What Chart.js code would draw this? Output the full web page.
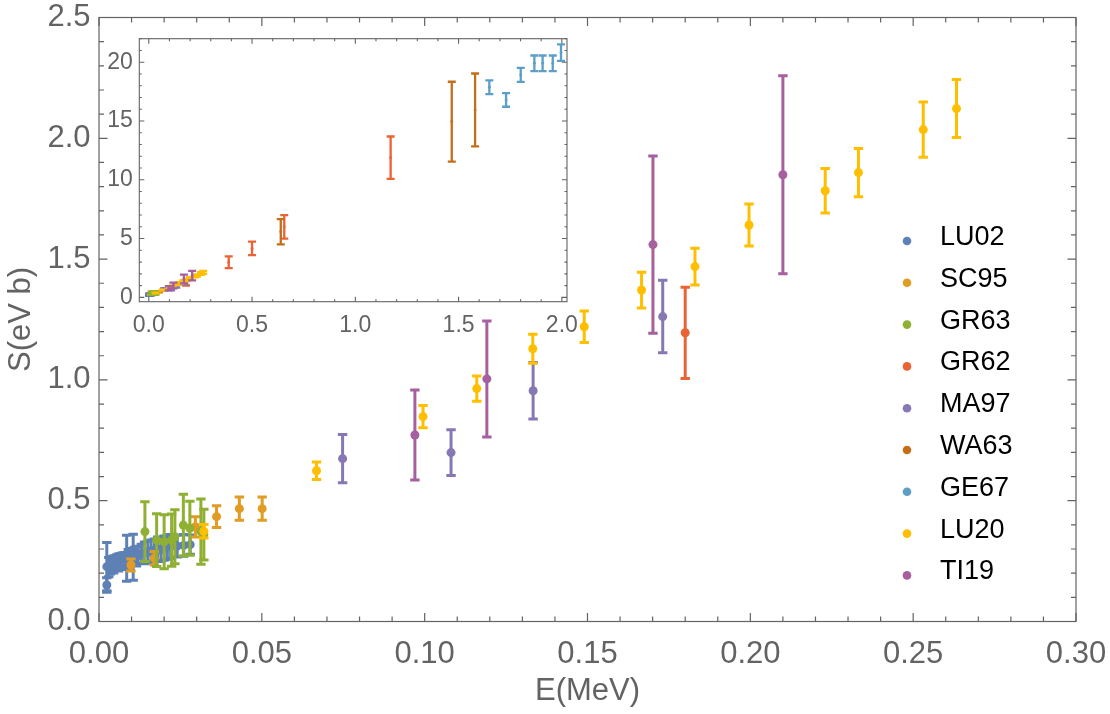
<!DOCTYPE html>
<html>
<head>
<meta charset="utf-8">
<title>S(E)</title>
<script src="https://cdn.jsdelivr.net/npm/chart.js@4.4.1/dist/chart.umd.min.js"></script>
<style>
  html, body { margin: 0; padding: 0; background: #fff; }
  #wrap { position: relative; width: 1110px; height: 714px; }
  #main { position: absolute; left: 0; top: 0; }
  #inset { position: absolute; left: 100px; top: 20px; pointer-events: none; }
</style>
</head>
<body>
<div id="wrap">
  <canvas id="main" width="1110" height="714"></canvas>
  <canvas id="inset" width="500" height="330"></canvas>
</div>
<script>
// 系列名と色（Mathematica のデフォルト配色）
const seriesNames = ["LU02", "SC95", "GR63", "GR62", "MA97", "WA63", "GE67", "LU20", "TI19"];
const seriesColors = ["#5E81B5", "#E19C24", "#8FB032", "#EB6235", "#8778B3", "#C56E1A", "#5D9EC7", "#FFBF00", "#A5609D"];

// 各系列: E (MeV), S (eV b), 誤差
const lu02E = [0.0024, 0.0024, 0.0030, 0.0035, 0.0040, 0.0045, 0.0050, 0.0055, 0.0060, 0.0065, 0.0070, 0.0075,
               0.0080, 0.0085, 0.0090, 0.0095, 0.0100, 0.0105, 0.0110, 0.0115, 0.0120, 0.0130, 0.0140, 0.0150,
               0.0160, 0.0170, 0.0180, 0.0190, 0.0200, 0.0210, 0.0220, 0.0240, 0.0260, 0.0280];
const lu02S = [0.151, 0.227, 0.225, 0.232, 0.238, 0.236, 0.242, 0.246, 0.244, 0.250, 0.253, 0.250,
               0.256, 0.262, 0.258, 0.264, 0.268, 0.266, 0.272, 0.270, 0.276, 0.280, 0.284, 0.288,
               0.292, 0.296, 0.300, 0.298, 0.304, 0.308, 0.310, 0.312, 0.315, 0.318];
const lu02Err = [0.030, 0.100, 0.040, 0.035, 0.030, 0.035, 0.030, 0.030, 0.035, 0.030, 0.030, 0.035,
                 0.030, 0.095, 0.040, 0.035, 0.035, 0.095, 0.035, 0.040, 0.035, 0.040, 0.045, 0.045,
                 0.045, 0.045, 0.050, 0.050, 0.050, 0.050, 0.050, 0.045, 0.045, 0.040];

const sc95E = [0.0098, 0.0170, 0.0296, 0.0361, 0.0431, 0.0501];
const sc95S = [0.234, 0.262, 0.392, 0.434, 0.467, 0.467];
const sc95Err = [0.025, 0.028, 0.042, 0.045, 0.048, 0.048];

const gr63E = [0.0141, 0.0177, 0.0200, 0.0223, 0.0233, 0.0259, 0.0279, 0.0313, 0.0322];
const gr63S = [0.372, 0.337, 0.330, 0.337, 0.351, 0.399, 0.386, 0.372, 0.360];
const gr63Err = [0.124, 0.109, 0.112, 0.108, 0.112, 0.128, 0.112, 0.135, 0.105];

const gr62E = [0.180, 0.387, 0.500, 0.656, 1.171];
const gr62S = [1.195, 2.98, 4.17, 6.00, 11.88];
const gr62Err = [0.189, 0.50, 0.57, 1.00, 1.80];

const ma97E = [0.0748, 0.1081, 0.1333, 0.1731];
const ma97S = [0.674, 0.699, 0.955, 1.262];
const ma97Err = [0.100, 0.095, 0.117, 0.150];

const wa63E = [0.639, 1.467, 1.580];
const wa63S = [5.58, 14.94, 15.94];
const wa63Err = [1.07, 3.40, 3.10];

const ge67E = [1.649, 1.730, 1.801, 1.867, 1.907, 1.956, 1.996];
const ge67S = [17.87, 16.79, 18.92, 19.91, 19.91, 19.91, 20.82];
const ge67Err = [0.58, 0.58, 0.60, 0.66, 0.66, 0.66, 0.70];

const lu20E = [0.0322, 0.0668, 0.0995, 0.1160, 0.1332, 0.1490, 0.1666, 0.1830, 0.1996, 0.2230, 0.2332, 0.2531, 0.2633];
const lu20S = [0.374, 0.624, 0.848, 0.964, 1.129, 1.220, 1.372, 1.469, 1.641, 1.783, 1.858, 2.036, 2.123];
const lu20Err = [0.028, 0.036, 0.046, 0.052, 0.060, 0.065, 0.074, 0.076, 0.087, 0.092, 0.100, 0.114, 0.120];

const ti19E = [0.0970, 0.1191, 0.1701, 0.2100];
const ti19S = [0.772, 1.004, 1.560, 1.849];
const ti19Err = [0.186, 0.240, 0.367, 0.410];

// 目盛り
const mainXTicks = [0, 0.05, 0.10, 0.15, 0.20, 0.25, 0.30];
const mainXLabels = ["0.00", "0.05", "0.10", "0.15", "0.20", "0.25", "0.30"];
const mainYTicks = [0, 0.5, 1.0, 1.5, 2.0, 2.5];
const mainYLabels = ["0.0", "0.5", "1.0", "1.5", "2.0", "2.5"];
const insetXTicks = [0, 0.5, 1.0, 1.5, 2.0];
const insetXLabels = ["0.0", "0.5", "1.0", "1.5", "2.0"];
const insetYTicks = [0, 5, 10, 15, 20];
const insetYLabels = ["0", "5", "10", "15", "20"];

const series = [
  [lu02E, lu02S, lu02Err], [sc95E, sc95S, sc95Err], [gr63E, gr63S, gr63Err],
  [gr62E, gr62S, gr62Err], [ma97E, ma97S, ma97Err], [wa63E, wa63S, wa63Err],
  [ge67E, ge67S, ge67Err], [lu20E, lu20S, lu20Err], [ti19E, ti19S, ti19Err]
];

Chart.defaults.font.family = "'Liberation Sans', Arial, sans-serif";
const gray = "#636363";

function makeDatasets(radius) {
  return seriesNames.map((name, i) => ({
    label: name,
    data: series[i][0].map((e, j) => ({ x: e, y: series[i][1][j] })),
    errors: series[i][2],
    backgroundColor: seriesColors[i],
    borderColor: seriesColors[i],
    pointRadius: radius,
    pointBorderWidth: 0,
    showLine: false,
    order: seriesNames.length - i
  }));
}

function steps(min, max, step) {
  const out = [];
  for (let k = Math.ceil(min / step - 1e-9); k * step <= max + 1e-9; k++) out.push(+(k * step).toFixed(6));
  return out;
}

// エラーバー（各データセットの点の直前に描く）
const errorBarPlugin = {
  id: "errorBars",
  beforeDatasetDraw(chart, args, o) {
    const ds = chart.data.datasets[args.index];
    const { ctx, chartArea: a, scales: { x, y } } = chart;
    ctx.save();
    ctx.beginPath();
    ctx.rect(a.left, a.top, a.right - a.left, a.bottom - a.top);
    ctx.clip();
    ctx.strokeStyle = ds.borderColor;
    ctx.lineWidth = o.lineWidth;
    ds.data.forEach((p, j) => {
      const px = x.getPixelForValue(p.x);
      const top = y.getPixelForValue(p.y + ds.errors[j]);
      const bot = y.getPixelForValue(p.y - ds.errors[j]);
      ctx.beginPath();
      ctx.moveTo(px, top); ctx.lineTo(px, bot);
      ctx.moveTo(px - o.cap, top); ctx.lineTo(px + o.cap, top);
      ctx.moveTo(px - o.cap, bot); ctx.lineTo(px + o.cap, bot);
      ctx.stroke();
    });
    ctx.restore();
  }
};

// 枠と内向きの目盛り
const framePlugin = {
  id: "frameTicks",
  beforeDatasetsDraw(chart, args, o) {
    const { ctx, chartArea: a, scales: { x, y } } = chart;
    ctx.save();
    ctx.strokeStyle = gray;
    ctx.lineWidth = o.width;
    ctx.strokeRect(a.left, a.top, a.right - a.left, a.bottom - a.top);
    ctx.beginPath();
    const isMajor = (v, list) => list.some(m => Math.abs(m - v) < 1e-6);
    steps(x.min, x.max, o.xMinor).forEach(v => {
      const px = x.getPixelForValue(v);
      const len = isMajor(v, o.xMajor) ? o.major : o.minor;
      ctx.moveTo(px, a.bottom); ctx.lineTo(px, a.bottom - len);
      ctx.moveTo(px, a.top); ctx.lineTo(px, a.top + len);
    });
    steps(y.min, y.max, o.yMinor).forEach(v => {
      const py = y.getPixelForValue(v);
      const len = isMajor(v, o.yMajor) ? o.major : o.minor;
      ctx.moveTo(a.left, py); ctx.lineTo(a.left + len, py);
      ctx.moveTo(a.right, py); ctx.lineTo(a.right - len, py);
    });
    ctx.stroke();
    ctx.restore();
  }
};

// 凡例（プロット内右側）
const legendPlugin = {
  id: "sideLegend",
  afterDraw(chart, args, o) {
    const ctx = chart.ctx;
    ctx.save();
    ctx.font = o.font;
    ctx.textBaseline = "alphabetic";
    chart.data.datasets.forEach((ds, i) => {
      const y = o.top + i * o.gap;
      ctx.fillStyle = ds.backgroundColor;
      ctx.beginPath();
      ctx.arc(o.left, y - 4, o.r, 0, Math.PI * 2);
      ctx.fill();
      ctx.fillStyle = "#000";
      ctx.fillText(ds.label, o.left + 33, y);
    });
    ctx.restore();
  }
};

function axis(min, max, ticks, labels, fontSize, tl, fit, title) {
  return {
    type: "linear",
    min, max,
    afterBuildTicks: s => { s.ticks = ticks.map(v => ({ value: v })); },
    afterFit: fit,
    grid: { display: false, drawTicks: true, tickLength: tl },
    border: { display: false },
    ticks: {
      autoSkip: false, maxRotation: 0, padding: 0, color: gray,
      font: { size: fontSize, lineHeight: 1 },
      callback: (v, i) => labels[i]
    },
    title: title
  };
}

new Chart(document.getElementById("main"), {
  type: "scatter",
  data: { datasets: makeDatasets(4.5) },
  options: {
    responsive: false, animation: false, events: [],
    layout: { padding: { top: 17.5, right: 34, left: 0, bottom: 0 } },
    plugins: {
      legend: { display: false }, tooltip: { enabled: false },
      errorBars: { lineWidth: 3, cap: 4.7 },
      frameTicks: { width: 1.2, major: 8.5, minor: 5, xMajor: mainXTicks, xMinor: 0.01, yMajor: mainYTicks, yMinor: 0.1 },
      sideLegend: { left: 907, top: 245, gap: 41.8, r: 4.3, font: "27px 'Liberation Sans', Arial, sans-serif" }
    },
    scales: {
      x: axis(0, 0.3, mainXTicks, mainXLabels, 31, 17, s => { s.height = 92.5; },
        { display: true, text: "E(MeV)", color: gray, font: { size: 31, lineHeight: 1.2 }, padding: { top: 0, bottom: 3.5 } }),
      y: axis(0, 2.5, mainYTicks, mainYLabels, 31, 8.5, s => { s.width = 99; },
        { display: true, text: "S(eV b)", color: gray, font: { size: 31, lineHeight: 1.2 }, padding: { top: 3, bottom: 0 } })
    }
  },
  plugins: [framePlugin, errorBarPlugin, legendPlugin]
});

new Chart(document.getElementById("inset"), {
  type: "scatter",
  data: { datasets: makeDatasets(1.4) },
  options: {
    responsive: false, animation: false, events: [],
    layout: { padding: { top: 18.7, right: 33, left: 0, bottom: 0 } },
    plugins: {
      legend: { display: false }, tooltip: { enabled: false },
      errorBars: { lineWidth: 2.3, cap: 4 },
      frameTicks: { width: 1.1, major: 5, minor: 2.5, xMajor: insetXTicks, xMinor: 0.1, yMajor: insetYTicks, yMinor: 1 }
    },
    scales: {
      x: axis(-0.046, 2.025, insetXTicks, insetXLabels, 23, 12, s => { s.height = 48.3; }, { display: false }),
      y: axis(-0.37, 22, insetYTicks, insetYLabels, 23, 6.5, s => { s.width = 39.3; }, { display: false })
    }
  },
  plugins: [framePlugin, errorBarPlugin]
});
</script>
</body>
</html>
